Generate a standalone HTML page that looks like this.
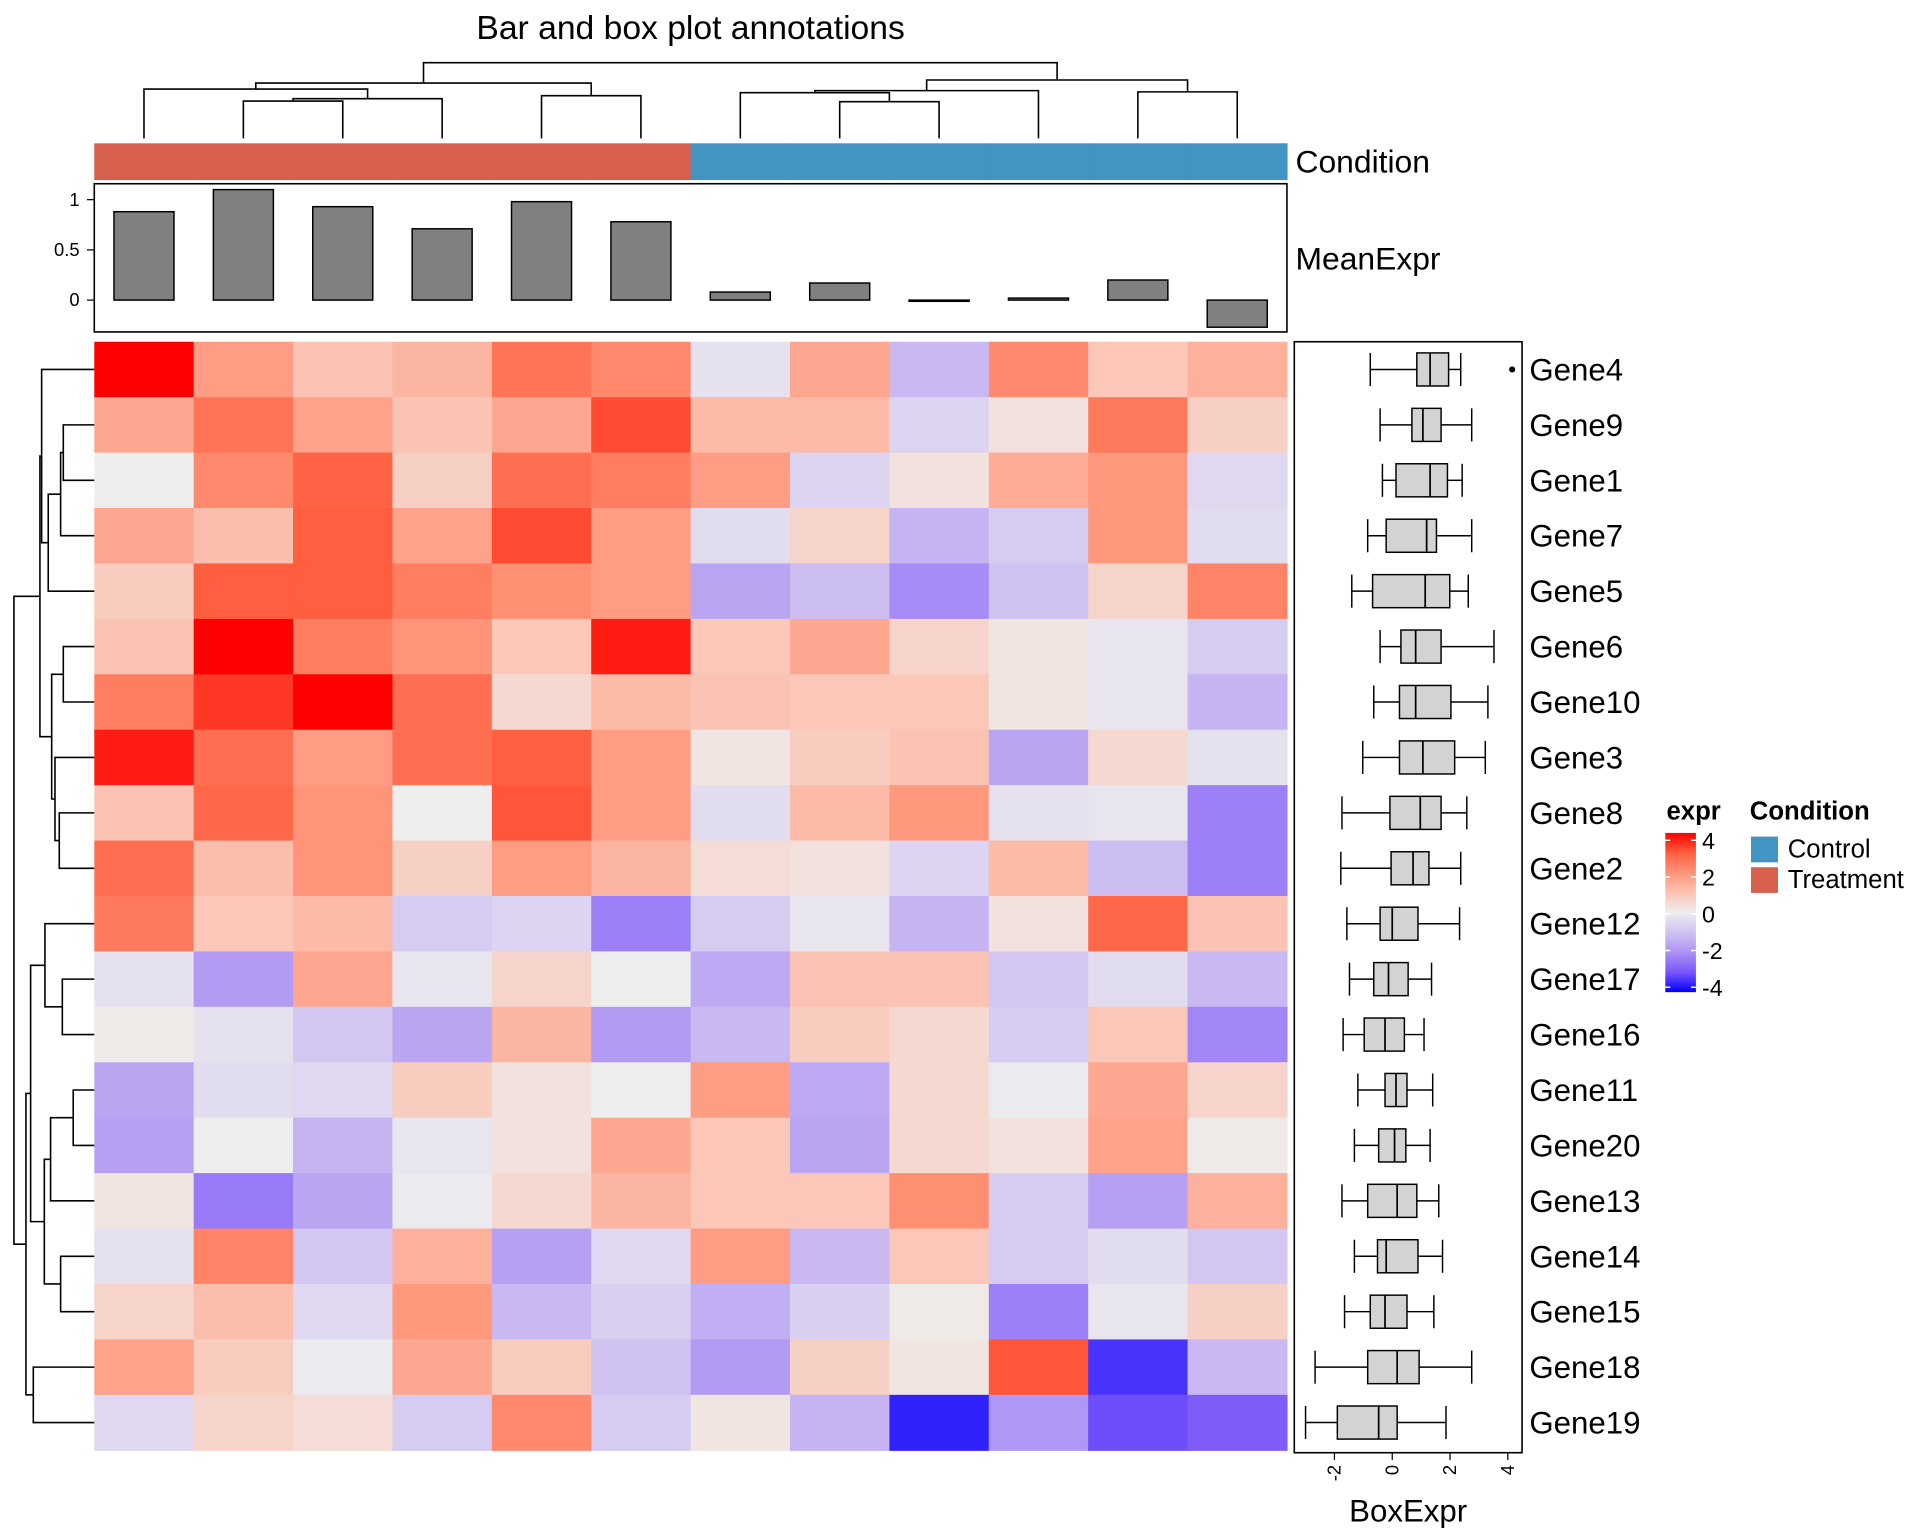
<!DOCTYPE html>
<html><head><meta charset="utf-8"><style>
html,body{margin:0;padding:0;background:#fff;}
svg{display:block;font-family:"Liberation Sans",sans-serif;}
</style></head><body>
<svg id="chart" width="1920" height="1536" viewBox="0 0 1568 1254" preserveAspectRatio="none" xmlns="http://www.w3.org/2000/svg"></svg>
<script>
const genes = ["Gene4","Gene9","Gene1","Gene7","Gene5","Gene6","Gene10","Gene3","Gene8","Gene2","Gene12","Gene17","Gene16","Gene11","Gene20","Gene13","Gene14","Gene15","Gene18","Gene19"];
const conditions = ["Treatment","Treatment","Treatment","Treatment","Treatment","Treatment","Control","Control","Control","Control","Control","Control"];
const exprRows = [
[4,1.8,1.0,1.3,2.6,2.2,-0.3,1.6,-1.2,2.2,0.9,1.4],
[1.6,2.6,1.7,1.0,1.6,3.2,1.2,1.2,-0.6,0.3,2.5,0.7],
[0,2.2,2.9,0.7,2.7,2.4,1.8,-0.6,0.3,1.5,1.9,-0.5],
[1.6,1.1,3.0,1.7,3.2,1.8,-0.4,0.6,-1.3,-0.8,1.9,-0.4],
[0.8,3.0,3.0,2.4,2.1,1.8,-1.6,-1.1,-2.1,-1.0,0.6,2.3],
[1.0,4,2.4,2.0,0.9,3.7,0.9,1.6,0.6,0.2,-0.2,-0.8],
[2.4,3.4,4,2.7,0.5,1.2,1.0,0.9,0.9,0.2,-0.2,-1.3],
[3.7,2.7,1.8,2.7,3.0,1.8,0.2,0.8,1.0,-1.6,0.5,-0.3],
[1.0,2.8,2.0,0,3.1,1.8,-0.4,1.2,1.9,-0.3,-0.2,-2.3],
[2.7,1.1,2.0,0.7,1.8,1.3,0.4,0.3,-0.6,1.2,-1.1,-2.3],
[2.5,0.9,1.2,-0.8,-0.6,-2.3,-0.8,-0.2,-1.3,0.3,2.8,1.0],
[-0.3,-1.8,1.6,-0.2,0.6,0,-1.5,1.0,1.0,-0.9,-0.4,-1.2],
[0.1,-0.3,-0.9,-1.6,1.3,-1.8,-1.2,0.8,0.5,-0.8,0.9,-2.2],
[-1.6,-0.4,-0.5,0.8,0.3,0,1.8,-1.5,0.5,-0.1,1.6,0.6],
[-1.7,0,-1.3,-0.2,0.3,1.6,0.9,-1.6,0.5,0.3,1.7,0.1],
[0.2,-2.4,-1.6,-0.1,0.5,1.3,0.9,0.9,2.1,-0.8,-1.7,1.4],
[-0.3,2.3,-0.9,1.4,-1.7,-0.5,1.8,-1.2,0.9,-0.8,-0.4,-0.9],
[0.6,1.1,-0.5,1.9,-1.2,-0.7,-1.4,-0.7,0.1,-2.3,-0.2,0.7],
[1.7,0.8,-0.1,1.6,0.8,-1.0,-1.8,0.7,0.2,3.1,-3.4,-1.2],
[-0.5,0.6,0.4,-0.8,2.2,-0.8,0.2,-1.3,-3.6,-1.9,-3.1,-2.9]];
const meanExpr = [0.88,1.1,0.93,0.71,0.98,0.78,0.08,0.17,0.0,0.02,0.2,-0.27];
const barTicks = [0,0.5,1];
const boxLo = [-0.76,-0.42,-0.34,-0.85,-1.4,-0.42,-0.64,-1.02,-1.74,-1.78,-1.57,-1.48,-1.7,-1.19,-1.31,-1.74,-1.31,-1.65,-2.67,-3.0];
const boxQ1 = [0.85,0.68,0.13,-0.21,-0.68,0.3,0.25,0.25,-0.08,-0.04,-0.42,-0.64,-0.97,-0.25,-0.47,-0.85,-0.51,-0.76,-0.85,-1.9];
const boxMed = [1.31,1.06,1.31,1.19,1.14,0.81,0.81,1.06,0.97,0.72,0,-0.13,-0.25,0.13,0.08,0.17,-0.21,-0.25,0.17,-0.47];
const boxQ3 = [1.95,1.69,1.91,1.53,1.99,1.69,2.03,2.16,1.69,1.27,0.89,0.55,0.42,0.51,0.47,0.85,0.89,0.51,0.93,0.17];
const boxHi = [2.37,2.75,2.42,2.75,2.63,3.52,3.31,3.22,2.58,2.37,2.33,1.36,1.1,1.4,1.31,1.61,1.74,1.44,2.75,1.86];
const boxOutliers = [[0,4.15]];
const boxTicks = [-2,0,2,4];
const legendTicks = [4,2,0,-2,-4];
const colTree = [[[0,[[1,2,82.5],3,80.6],72.7],[4,5,78.1],67.8],[[[6,[7,8,83],75.7],9,74],[10,11,75],65.3],51.2];
const rowTree = [[[0,[[[1,2,51.7],3,49.5],4,39.4],34.0],[[5,6,51.7],[7,[8,9,48.4],44.9],42.2],32.6],
 [[[10,[11,12,50.9],36.7],[[[13,14,59.8],15,41.3],[16,17,49.5],36.2],25],[18,19,27.2],21.2],11.4];

const NS="http://www.w3.org/2000/svg";
const svg=document.getElementById('chart');
function el(tag,attrs,parent){const e=document.createElementNS(NS,tag);for(const k in attrs)e.setAttribute(k,attrs[k]);(parent||svg).appendChild(e);return e;}
const hmX0=77,hmX1=1051,hmY0=279,hmY1=1184;
const nC=12,nR=genes.length;
const cw=(hmX1-hmX0)/nC, rh=(hmY1-hmY0)/nR;
const colX=i=>hmX0+cw*i, colC=i=>hmX0+cw*(i+0.5);
const rowY=j=>hmY0+rh*j, rowC=j=>hmY0+rh*(j+0.5);
const stops=[[-4,[0,0,255]],[-3,[122,86,250]],[-2,[172,145,245]],[-1,[208,194,241]],[0,[238,238,238]],[1,[251,195,179]],[2,[255,148,120]],[3,[255,94,63]],[4,[255,0,0]]];
function color(v){v=Math.max(-4,Math.min(4,v));for(let i=0;i<stops.length-1;i++){const a=stops[i],b=stops[i+1];if(v<=b[0]){const t=(v-a[0])/(b[0]-a[0]);const c=a[1].map((x,k)=>Math.round(x+(b[1][k]-x)*t));return `rgb(${c[0]},${c[1]},${c[2]})`;}}return 'red';}

let t=el('text',{x:564,y:32,'text-anchor':'middle','font-size':27.5,fill:'#000'});t.textContent='Bar and box plot annotations';



const hg=el('g',{});


exprRows.forEach((row,j)=>row.forEach((v,i)=>{
  const r=el('rect',{x:colX(i),y:rowY(j),width:cw+0.5,height:rh+0.5,fill:color(v)},hg);
  
  
}));

function drawCol(node,g){ if(typeof node==='number') return {x:colC(node),y:113};
  const a=drawCol(node[0],g),b=drawCol(node[1],g),h=node[2];
  el('path',{d:`M${a.x},${a.y}V${h}H${b.x}V${b.y}`,fill:'none',stroke:'#000','stroke-width':1.3},g);
  return {x:(a.x+b.x)/2,y:h};}
const cg=el('g',{});


drawCol(colTree,cg);
function drawRow(node,g){ if(typeof node==='number') return {y:rowC(node),x:77};
  const a=drawRow(node[0],g),b=drawRow(node[1],g),h=node[2];
  el('path',{d:`M${a.x},${a.y}H${h}V${b.y}H${b.x}`,fill:'none',stroke:'#000','stroke-width':1.3},g);
  return {y:(a.y+b.y)/2,x:h};}
const rg=el('g',{});


drawRow(rowTree,rg);

const condG=el('g',{});


conditions.forEach((c,i)=>{const r=el('rect',{x:colX(i),y:117,width:cw+0.5,height:30,fill:c==='Treatment'?'#D6604D':'#4393C3'},condG);
  
  });
t=el('text',{x:1058,y:141,'font-size':26});t.textContent='Condition';



const bY0=245, bScale=82;
const by=v=>bY0-v*bScale;
const bg=el('g',{});


el('rect',{x:77,y:150,width:974,height:121,fill:'none',stroke:'#000','stroke-width':1.3},bg);
meanExpr.forEach((v,i)=>{const y0=Math.min(by(v),bY0),h=Math.max(Math.abs(by(v)-bY0),1);
  const r=el('rect',{x:colC(i)-24.5,y:y0,width:49,height:h,fill:'#808080',stroke:'#000','stroke-width':1.2},bg);
  
  });
barTicks.forEach(v=>{el('line',{x1:71,x2:77,y1:by(v),y2:by(v),stroke:'#000'},bg);
  const tt=el('text',{x:65,y:by(v)+5,'text-anchor':'end','font-size':15},bg);tt.textContent=String(v);
  
  });
t=el('text',{x:1058,y:220,'font-size':26});t.textContent='MeanExpr';



const bx=v=>1137+v*23.6;
const xg=el('g',{});


el('rect',{x:1057,y:279,width:186,height:907,fill:'none',stroke:'#000','stroke-width':1.3},xg);
genes.forEach((g,j)=>{const cy=rowC(j),h=27;
  el('line',{x1:bx(boxLo[j]),x2:bx(boxQ1[j]),y1:cy,y2:cy,stroke:'#000','stroke-width':1.2},xg);
  el('line',{x1:bx(boxQ3[j]),x2:bx(boxHi[j]),y1:cy,y2:cy,stroke:'#000','stroke-width':1.2},xg);
  el('line',{x1:bx(boxLo[j]),x2:bx(boxLo[j]),y1:cy-h/2,y2:cy+h/2,stroke:'#000','stroke-width':1.2},xg);
  el('line',{x1:bx(boxHi[j]),x2:bx(boxHi[j]),y1:cy-h/2,y2:cy+h/2,stroke:'#000','stroke-width':1.2},xg);
  const r=el('rect',{x:bx(boxQ1[j]),y:cy-h/2,width:bx(boxQ3[j])-bx(boxQ1[j]),height:h,fill:'#D3D3D3',stroke:'#000','stroke-width':1.2},xg);
  
  
  el('line',{x1:bx(boxMed[j]),x2:bx(boxMed[j]),y1:cy-h/2,y2:cy+h/2,stroke:'#000','stroke-width':1.4},xg);
});
boxOutliers.forEach(o=>{const c=el('circle',{cx:bx(o[1]),cy:rowC(o[0]),r:2.5,fill:'#000'},xg);
  
  });
boxTicks.forEach(v=>{el('line',{x1:bx(v),x2:bx(v),y1:1186,y2:1192,stroke:'#000'},xg);
  const tt=el('text',{transform:`translate(${bx(v)+5},1196) rotate(-90)`,'text-anchor':'end','font-size':15},xg);tt.textContent=String(v);
  
  });
t=el('text',{x:1150,y:1242,'text-anchor':'middle','font-size':25.5});t.textContent='BoxExpr';



genes.forEach((g,j)=>{const tt=el('text',{x:1249,y:rowC(j)+9,'font-size':25.5});tt.textContent=g;
  
  });

const lg=el('g',{});


t=el('text',{x:1361,y:669,'font-size':21,'font-weight':'bold'},lg);t.textContent='expr';
const defs=el('defs',{});
const grad=el('linearGradient',{id:'lg',x1:0,y1:0,x2:0,y2:1},defs);
for(let k=0;k<=16;k++){const v=4-k*0.5;el('stop',{offset:(k/16),'stop-color':color(v)},grad);}
el('rect',{x:1360,y:680,width:25,height:130,fill:'url(#lg)'},lg);
const ly=v=>746-v*15;
legendTicks.forEach(v=>{el('line',{x1:1360,x2:1364,y1:ly(v),y2:ly(v),stroke:'#fff','stroke-width':1.2},lg);
  el('line',{x1:1381,x2:1385,y1:ly(v),y2:ly(v),stroke:'#fff','stroke-width':1.2},lg);
  const tt=el('text',{x:1390,y:ly(v)+7,'font-size':19},lg);tt.textContent=String(v);
  
  });

const cl=el('g',{});


t=el('text',{x:1429,y:669,'font-size':21,'font-weight':'bold'},cl);t.textContent='Condition';
[['Control','#4393C3',683],['Treatment','#D6604D',708]].forEach(([n,c,y])=>{
  const r=el('rect',{x:1430,y:y,width:22,height:21,fill:c},cl);
  
  
  const tt=el('text',{x:1460,y:y+17,'font-size':21},cl);tt.textContent=n;
  
  });
</script>
</body></html>
